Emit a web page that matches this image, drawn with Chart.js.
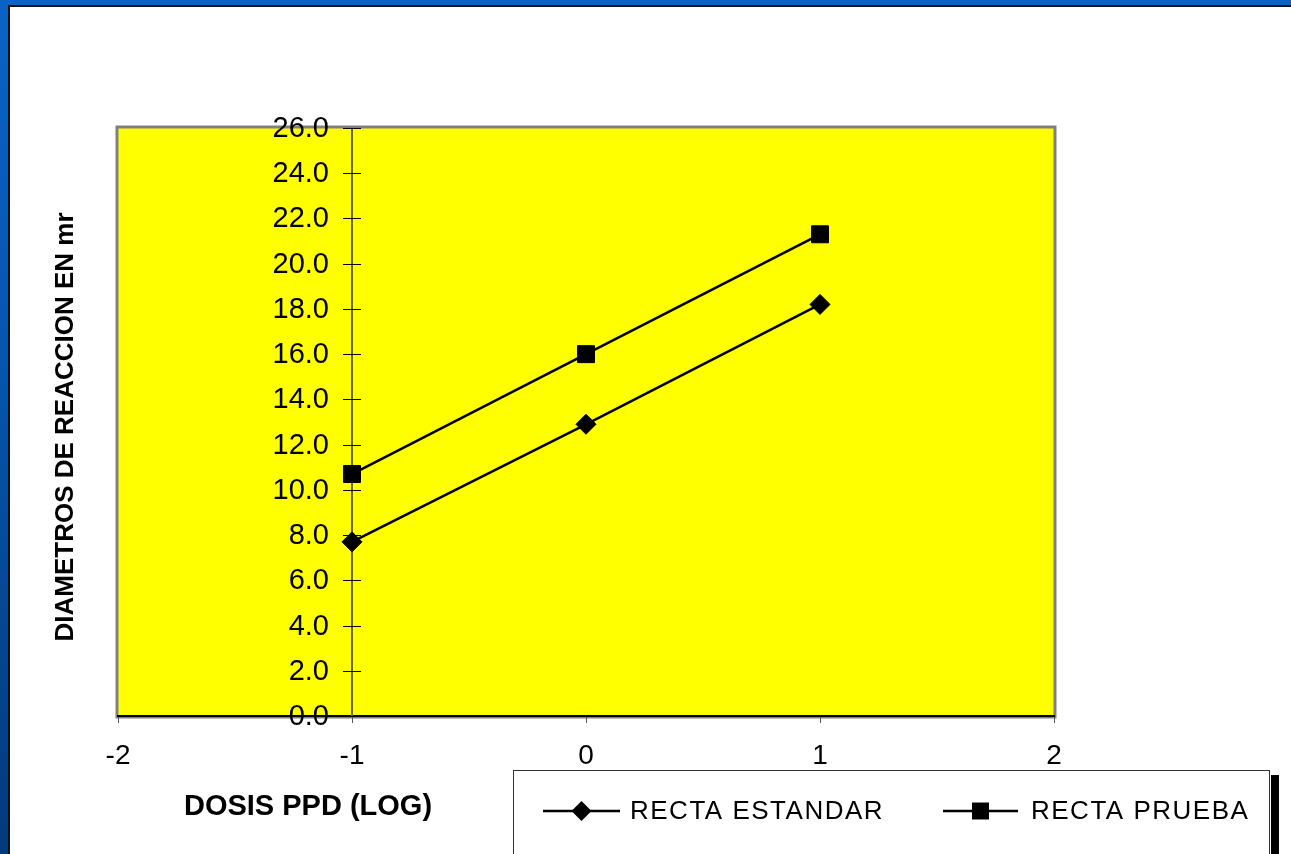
<!DOCTYPE html>
<html><head><meta charset="utf-8">
<script src="https://cdn.jsdelivr.net/npm/chart.js@4.4.1/dist/chart.umd.min.js"></script>
<style>
html,body{margin:0;padding:0;width:1291px;height:854px;overflow:hidden;}
body{background:linear-gradient(180deg,#0a63c4 0%,#0656b0 40%,#033a7c 100%);position:relative;}
#paper{position:absolute;left:8px;top:5px;right:0;bottom:0;background:#fff;border-top:2px solid #111;border-left:2px solid #111;}
canvas{position:absolute;left:0;top:0;}
</style></head><body>
<div id="paper"></div>
<canvas id="c" width="1291" height="854"></canvas>
<script>
const xTicks = [-2, -1, 0, 1, 2];
const yTicks = [0, 2, 4, 6, 8, 10, 12, 14, 16, 18, 20, 22, 24, 26];
const dosisLog = [-1, 0, 1];
const rectaEstandar = [7.7, 12.9, 18.2];
const rectaPrueba = [10.7, 16.0, 21.3];
const seriesNames = ['RECTA ESTANDAR', 'RECTA PRUEBA'];
const xTitle = 'DOSIS PPD (LOG)';
const yTitle = 'DIAMETROS DE REACCION EN mr';

const FONT = "'Liberation Sans', Arial, sans-serif";

function drawMarker(ctx, style, x, y, r) {
  ctx.beginPath();
  if (style === 'rectRot') {
    ctx.moveTo(x, y - r); ctx.lineTo(x + r, y); ctx.lineTo(x, y + r); ctx.lineTo(x - r, y); ctx.closePath();
  } else {
    const h = r * Math.SQRT1_2;
    ctx.rect(x - h, y - h, 2 * h, 2 * h);
  }
  ctx.fillStyle = '#000'; ctx.fill();
}

const decor = {
  id: 'decor',
  beforeDraw(chart) {
    const {ctx, chartArea: a} = chart;
    ctx.save();
    ctx.fillStyle = '#ffff00';
    ctx.fillRect(a.left, a.top, a.right - a.left, a.bottom - a.top);
    ctx.strokeStyle = '#808080'; ctx.lineWidth = 3;
    ctx.strokeRect(a.left - 1, a.top - 1, a.right - a.left + 2, a.bottom - a.top + 2);
    ctx.restore();
  },
  beforeDatasetsDraw(chart) {
    const {ctx, chartArea: a, scales: {x, y}} = chart;
    const ax = x.getPixelForValue(-1);
    ctx.save();
    ctx.strokeStyle = '#6a6a00'; ctx.lineWidth = 2;
    ctx.beginPath(); ctx.moveTo(ax, a.top); ctx.lineTo(ax, a.bottom); ctx.stroke();
    ctx.strokeStyle = '#000'; ctx.lineWidth = 1;
    ctx.fillStyle = '#000';
    ctx.font = '29px ' + FONT;
    ctx.textAlign = 'right'; ctx.textBaseline = 'middle';
    yTicks.forEach(v => {
      const py = Math.round(y.getPixelForValue(v)) + 0.5;
      ctx.beginPath(); ctx.moveTo(ax - 9, py); ctx.lineTo(ax + 9, py); ctx.stroke();
      ctx.fillText(v.toFixed(1), ax - 23, py);
    });
    ctx.restore();
  },
  afterDraw(chart) {
    const {ctx} = chart;
    ctx.save();
    ctx.fillStyle = '#000';
    ctx.font = 'bold 29px ' + FONT;
    ctx.textAlign = 'center'; ctx.textBaseline = 'middle';
    ctx.fillText(xTitle, 308, 807);
    ctx.save();
    ctx.translate(66, 427); ctx.rotate(-Math.PI / 2);
    ctx.font = 'bold 26px ' + FONT;
    ctx.fillText(yTitle, 0, 0);
    ctx.restore();
    // legend
    ctx.fillStyle = '#000'; ctx.fillRect(1271, 775, 8, 79);
    ctx.fillStyle = '#fff'; ctx.fillRect(513, 770, 757, 90);
    ctx.strokeStyle = '#333'; ctx.lineWidth = 1;
    ctx.strokeRect(513.5, 770.5, 756, 100);
    const items = [{x0: 543, x1: 620, tx: 630}, {x0: 943, x1: 1018, tx: 1031}];
    const ly = 811;
    chart.data.datasets.forEach((ds, i) => {
      const it = items[i];
      ctx.strokeStyle = '#000'; ctx.lineWidth = 2.5;
      ctx.beginPath(); ctx.moveTo(it.x0, ly); ctx.lineTo(it.x1, ly); ctx.stroke();
      drawMarker(ctx, ds.pointStyle, (it.x0 + it.x1) / 2, ly, ds.pointRadius);
      ctx.fillStyle = '#000';
      ctx.font = '26px ' + FONT;
      ctx.letterSpacing = '1.5px';
      ctx.textAlign = 'left'; ctx.textBaseline = 'middle';
      ctx.fillText(ds.label, it.tx, ly + 1);
      ctx.letterSpacing = '0px';
    });
    ctx.restore();
  }
};

const toPts = arr => dosisLog.map((d, i) => ({x: d, y: arr[i]}));

new Chart(document.getElementById('c'), {
  type: 'scatter',
  data: {
    datasets: [
      {label: seriesNames[0], data: toPts(rectaEstandar), showLine: true, borderColor: '#000', borderWidth: 2.5,
       pointStyle: 'rectRot', pointRadius: 10, pointBackgroundColor: '#000', pointBorderColor: '#000', pointBorderWidth: 1},
      {label: seriesNames[1], data: toPts(rectaPrueba), showLine: true, borderColor: '#000', borderWidth: 2.5,
       pointStyle: 'rect', pointRadius: 12, pointBackgroundColor: '#000', pointBorderColor: '#000', pointBorderWidth: 1}
    ]
  },
  options: {
    responsive: false,
    animation: false,
    devicePixelRatio: 1,
    layout: {padding: {left: 118, top: 128, right: 237, bottom: 0}},
    plugins: {legend: {display: false}, tooltip: {enabled: false}},
    scales: {
      x: {
        type: 'linear', position: 'bottom', min: xTicks[0], max: xTicks[xTicks.length - 1],
        afterBuildTicks: s => { s.ticks = xTicks.map(v => ({value: v})); },
        afterFit: s => { s.height = 138; },
        border: {display: true, color: '#000', width: 2},
        grid: {display: true, drawOnChartArea: false, drawTicks: true, tickLength: 7, tickColor: '#555', tickWidth: 1},
        ticks: {font: {family: FONT, size: 28}, color: '#000', padding: 16, maxRotation: 0, autoSkip: false,
                callback: v => String(v)}
      },
      y: {
        type: 'linear', display: false, min: yTicks[0], max: yTicks[yTicks.length - 1],
        ticks: {stepSize: 2}
      }
    }
  },
  plugins: [decor]
});
</script>
</body></html>
